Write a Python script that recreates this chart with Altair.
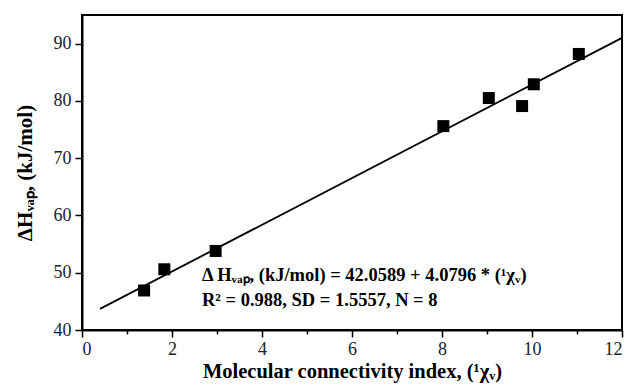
import altair as alt
import pandas as pd

# data points
chi = [1.38, 1.83, 2.97, 8.03, 9.04, 9.78, 10.04, 11.04]
dh = [46.9, 50.6, 53.8, 75.6, 80.5, 79.1, 82.9, 88.2]

# fit line
intercept = 42.0589
slope = 4.0796
line_x = [0.4, 12.0]
line_y = [intercept + slope * v for v in line_x]

eq_line1 = "\u0394 H\u1d65\u2090\u209a, (kJ/mol) = 42.0589 + 4.0796 * (\u00b9\u03c7\u1d65)"
eq_line2 = "R\u00b2 = 0.988, SD = 1.5557, N = 8"

pts = pd.DataFrame({"x": chi, "y": dh})
ln = pd.DataFrame({"x": line_x, "y": line_y})

FONT = "Liberation Serif, Times New Roman, serif"

xscale = alt.Scale(domain=[0, 12], nice=False, zero=False)
yscale = alt.Scale(domain=[40, 95], nice=False, zero=False)

xaxis = alt.Axis(
    values=list(range(0, 13)),
    labelExpr="datum.value % 2 === 0 ? datum.label : ''",
    tickSize={"condition": {"test": "datum.value % 2 === 0", "value": 7}, "value": 4},
    tickColor="black", tickWidth=1.5, domainColor="black", domainWidth=2,
    labelFont=FONT, labelFontSize=18, labelColor="#222", labelPadding=3,
    grid=False,
    title="Molecular connectivity index, (\u00b9\u03c7\u1d65)",
    titleFont=FONT, titleFontSize=20.5, titleFontWeight="bold", titleColor="black",
    titlePadding=3,
)
yaxis = alt.Axis(
    values=list(range(40, 95, 5)),
    labelExpr="datum.value % 10 === 0 ? datum.label : ''",
    tickSize={"condition": {"test": "datum.value % 10 === 0", "value": 7}, "value": 4},
    tickColor="black", tickWidth=1.5, domainColor="black", domainWidth=2,
    labelFont=FONT, labelFontSize=18, labelColor="#222", labelPadding=4,
    grid=False,
    title="\u0394H\u1d65\u2090\u209a, (kJ/mol)",
    titleFont=FONT, titleFontSize=21, titleFontWeight="bold", titleColor="black",
    titlePadding=18,
)

line = alt.Chart(ln).mark_line(color="black", strokeWidth=1.8).encode(
    x=alt.X("x:Q", scale=xscale, axis=xaxis),
    y=alt.Y("y:Q", scale=yscale, axis=yaxis),
)
points = alt.Chart(pts).mark_square(color="black", size=144, opacity=1).encode(
    x=alt.X("x:Q", scale=xscale),
    y=alt.Y("y:Q", scale=yscale),
)
txt_style = dict(font=FONT, fontSize=18.5, fontWeight="bold", align="left",
                 baseline="alphabetic", color="black")
eq1 = alt.Chart(pd.DataFrame({"t": [eq_line1]})).mark_text(**txt_style).encode(
    text="t:N", x=alt.value(120), y=alt.value(266),
)
eq2 = alt.Chart(pd.DataFrame({"t": [eq_line2]})).mark_text(**txt_style).encode(
    text="t:N", x=alt.value(120), y=alt.value(291),
)

chart = alt.layer(line, points, eq1, eq2).properties(
    width=540, height=315,
    autosize=alt.AutoSizeParams(type="none"),
    padding={"left": 74, "top": 7, "right": 3, "bottom": 58},
).configure_view(stroke="black", strokeWidth=2)

chart.save("out.html", embed_options={"renderer": "svg", "actions": False})
